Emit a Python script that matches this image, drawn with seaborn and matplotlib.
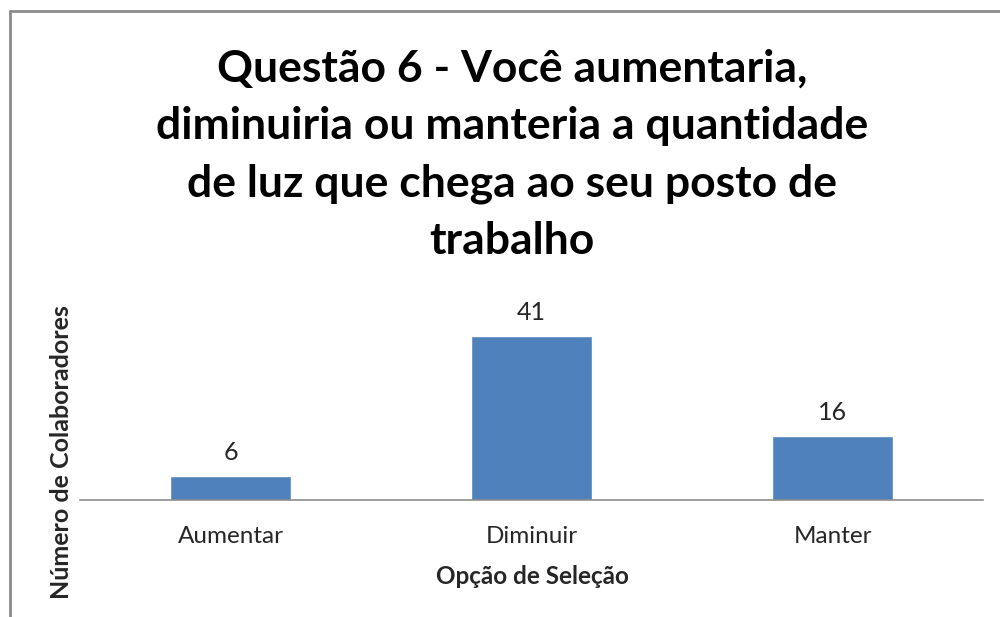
import seaborn as sns
import matplotlib.pyplot as plt
import pandas as pd
from matplotlib.lines import Line2D

# data
opcoes = ['Aumentar', 'Diminuir', 'Manter']
colaboradores = [6, 41, 16]

df = pd.DataFrame({'opcao': opcoes, 'n': colaboradores})

sns.set_style('white')
plt.rcParams['font.family'] = ['Lato', 'DejaVu Sans']

fig = plt.figure(figsize=(10, 6.17), dpi=100)
ax = fig.add_axes([0.08, 1 - 500 / 617, 0.903, 200 / 617])

sns.barplot(data=df, x='opcao', y='n', color='#4F81BD', saturation=1,
            width=0.4, ax=ax)
ax.bar_label(ax.containers[0], padding=9, fontsize=18, color='#262626')

ax.set_xlim(-0.5, 2.5)
ax.set_ylim(0, 50)
ax.set_yticks([])
ax.set_xlabel('')
ax.set_ylabel('')
ax.tick_params(axis='x', length=0, labelsize=17.5, pad=19, colors='#262626')
for s in ['top', 'left', 'right']:
    ax.spines[s].set_visible(False)
ax.spines['bottom'].set_color('#8c8c8c')
ax.spines['bottom'].set_linewidth(1.2)

# titles and axis labels
fig.text(0.512, 1 - 155 / 617,
         'Questão 6 - Você aumentaria,\ndiminuiria ou manteria a quantidade\n'
         'de luz que chega ao seu posto de\ntrabalho',
         ha='center', va='center', fontsize=32, fontweight='bold',
         linespacing=1.52, color='black')
fig.text(0.532, 1 - 577 / 617, 'Opção de Seleção', ha='center', va='center',
         fontsize=17.5, fontweight='bold')
fig.text(0.062, 1 - 452 / 617, 'Número de Colaboradores', ha='center',
         va='center', rotation=90, fontsize=18, fontweight='bold')

# chart border (cropped on right and bottom)
fig.add_artist(Line2D([0.010, 1.0], [1 - 11 / 617, 1 - 11 / 617],
                      transform=fig.transFigure, color='#8c8c8c', lw=2))
fig.add_artist(Line2D([0.010, 0.010], [0, 1 - 11 / 617],
                      transform=fig.transFigure, color='#8c8c8c', lw=2))

plt.savefig('out.png', dpi=100)
plt.close()
